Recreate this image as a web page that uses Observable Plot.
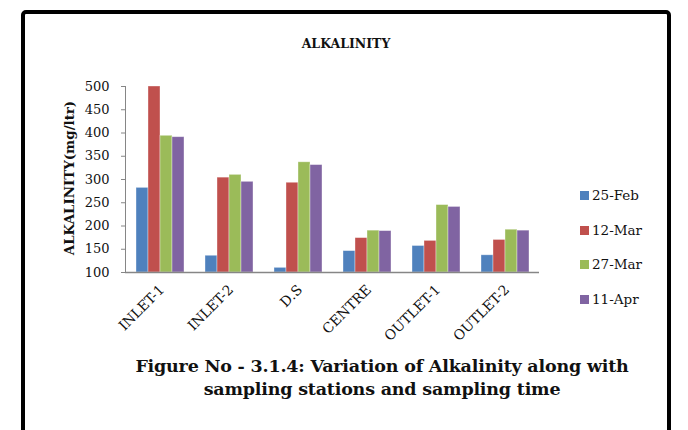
<!DOCTYPE html>
<html>
<head>
<meta charset="utf-8">
<script src="https://cdn.jsdelivr.net/npm/d3@7"></script>
<script src="https://cdn.jsdelivr.net/npm/@observablehq/plot@0.6"></script>
<style>
  html, body { margin: 0; padding: 0; background: #fff; }
  #fig { position: relative; width: 688px; height: 430px; overflow: hidden; background: #fff; }
  #box { position: absolute; left: 21px; top: 10px; width: 642px; height: 600px;
         border: 4.5px solid #000; border-radius: 5px; }
  #chart { position: absolute; left: 0; top: 0; }
  .title { position: absolute; left: 0; width: 692px; top: 36px; text-align: center;
           font: bold 12.5px "DejaVu Serif", serif; color: #111; }
  .ylabel { position: absolute; left: 69px; top: 178px; transform: translate(-50%, -50%) rotate(-90deg);
            white-space: nowrap; font: bold 13.4px "DejaVu Serif", serif; color: #111; }
  #legend { position: absolute; left: 580px; top: 187px; }
  .item { height: 34.7px; display: flex; align-items: flex-start; font: 13.5px "DejaVu Serif", serif; color: #111; }
  .sw { width: 9px; height: 9px; margin-top: 4px; margin-right: 3px; }
  .caption { position: absolute; left: 60px; width: 644px; top: 355px; text-align: center;
             font: bold 17.5px/23px "DejaVu Serif", serif; color: #111; letter-spacing: -0.2px; }
</style>
</head>
<body>
<div id="fig">
  <div id="box"></div>
  <div id="chart"></div>
  <div class="title">ALKALINITY</div>
  <div class="ylabel">ALKALINITY(mg/ltr)</div>
  <div id="legend"></div>
  <div class="caption">Figure No - 3.1.4: Variation of Alkalinity along with<br>sampling stations and sampling time</div>
</div>
<script>
// Sampling stations and sampling dates
const stations = ["INLET-1", "INLET-2", "D.S", "CENTRE", "OUTLET-1", "OUTLET-2"];
const dates = ["25-Feb", "12-Mar", "27-Mar", "11-Apr"];

// Alkalinity (mg/ltr) per station, one array per sampling date
const feb25 = [282, 136, 110, 146, 157, 137];
const mar12 = [500, 304, 293, 174, 168, 170];
const mar27 = [394, 310, 337, 190, 245, 192];
const apr11 = [391, 295, 331, 189, 241, 190];

const yTicks = [100, 150, 200, 250, 300, 350, 400, 450, 500];

// Series colours
const palette = ["#4F81BD", "#C0504D", "#9BBB59", "#8064A2"];

const series = [feb25, mar12, mar27, apr11];
const rows = [];
stations.forEach((s, i) => {
  dates.forEach((d, j) => rows.push({station: s, date: d, value: series[j][i]}));
});

const chart = Plot.plot({
  width: 688,
  height: 430,
  marginLeft: 124,
  marginRight: 148,
  marginTop: 86,
  marginBottom: 158,
  style: {fontFamily: "'DejaVu Serif', serif", fontSize: "13px", color: "#111", background: "transparent"},
  fx: {domain: stations, padding: 0, label: null, axis: null},
  x: {domain: dates, paddingInner: 0, paddingOuter: 0.74, axis: null},
  y: {domain: [100, 500], clamp: true, axis: null},
  color: {domain: dates, range: palette},
  marks: [
    Plot.barY(rows, {fx: "station", x: "date", y: "value", fill: "date",
                     stroke: "white", strokeOpacity: 0.45, strokeWidth: 0.8, inset: 0}),
    Plot.ruleY([100], {stroke: "#868686", strokeWidth: 1.6}),
    Plot.frame({anchor: "left", facetAnchor: "left", stroke: "#868686", strokeWidth: 1}),
    Plot.axisY({ticks: yTicks, tickSize: 4, tickPadding: 12, stroke: "#868686",
                label: null, fontSize: 13, facetAnchor: "left"}),
    Plot.axisFx({anchor: "bottom", tickSize: 0, tickRotate: -45, tickPadding: 15, label: null,
                 fontSize: 13.8, dx: 2})
  ]
});
document.getElementById("chart").appendChild(chart);

// Legend built from the same series names and colours
const legend = document.getElementById("legend");
dates.forEach((d, j) => {
  const item = document.createElement("div");
  item.className = "item";
  const sw = document.createElement("span");
  sw.className = "sw";
  sw.style.background = palette[j];
  const label = document.createElement("span");
  label.textContent = d;
  item.appendChild(sw);
  item.appendChild(label);
  legend.appendChild(item);
});
</script>
</body>
</html>
